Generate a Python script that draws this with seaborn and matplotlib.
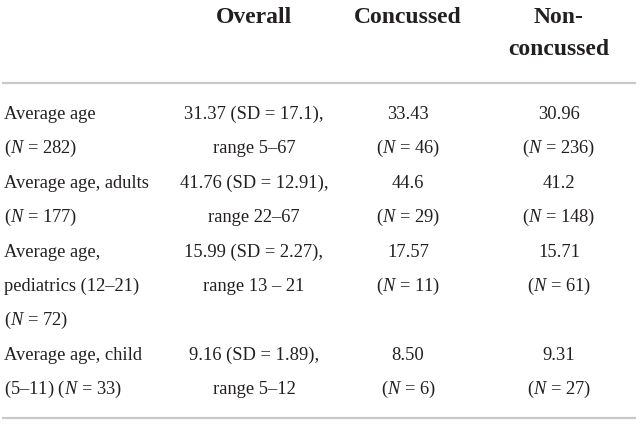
import matplotlib
matplotlib.use("Agg")
import matplotlib.pyplot as plt
import seaborn as sns

# -----------------------------
# DATA
# -----------------------------
headers = ["Overall", "Concussed", "Non-\nconcussed"]

row_labels = [
    ["Average age", "($N$ = 282)"],
    ["Average age, adults", "($N$ = 177)"],
    ["Average age,", "pediatrics (12–21)", "($N$ = 72)"],
    ["Average age, child", "(5–11) ($N$ = 33)"],
]
overall = [
    ["31.37 (SD = 17.1),", "range 5–67"],
    ["41.76 (SD = 12.91),", "range 22–67"],
    ["15.99 (SD = 2.27),", "range 13 – 21"],
    ["9.16 (SD = 1.89),", "range 5–12"],
]
concussed = [["33.43", "($N$ = 46)"], ["44.6", "($N$ = 29)"],
             ["17.57", "($N$ = 11)"], ["8.50", "($N$ = 6)"]]
non_concussed = [["30.96", "($N$ = 236)"], ["41.2", "($N$ = 148)"],
                 ["15.71", "($N$ = 61)"], ["9.31", "($N$ = 27)"]]

# -----------------------------
# SETUP
# -----------------------------
sns.set_theme(style="white")
plt.rcParams["font.family"] = ["Liberation Serif", "DejaVu Serif"]
plt.rcParams["mathtext.fontset"] = "custom"
plt.rcParams["mathtext.rm"] = "Liberation Serif"
plt.rcParams["mathtext.it"] = "Liberation Serif:italic"

W, H = 641, 425
fig = plt.figure(figsize=(W / 100, H / 100), dpi=100)
ax = fig.add_axes([0, 0, 1, 1])
ax.set_xlim(0, W)
ax.set_ylim(H, 0)
ax.axis("off")

body = 13.3
head = 17
col_x = [254, 408, 559]
line_gap = 34.4
first_base = 119
txt = "#231f20"

# header
for x, h in zip(col_x, headers):
    for j, part in enumerate(h.split("\n")):
        ax.text(x, 23 + j * 32, part, ha="center", va="baseline",
                fontsize=head, fontweight="bold", color=txt)

ax.plot([2, 636], [82.7, 82.7], color="#c9c9c9", lw=1.6, solid_capstyle="butt")

# body rows
k = 0
for i in range(len(row_labels)):
    for j, s in enumerate(row_labels[i]):
        ax.text(4, first_base + (k + j) * line_gap, s, ha="left", va="baseline",
                fontsize=body, color=txt)
    for x, col in zip(col_x, [overall, concussed, non_concussed]):
        for j, s in enumerate(col[i]):
            ax.text(x, first_base + (k + j) * line_gap, s, ha="center",
                    va="baseline", fontsize=body, color=txt)
    k += max(len(row_labels[i]), 2)

ax.plot([2, 636], [418, 418], color="#c9c9c9", lw=1.6, solid_capstyle="butt")

fig.savefig("out.png", dpi=100)
